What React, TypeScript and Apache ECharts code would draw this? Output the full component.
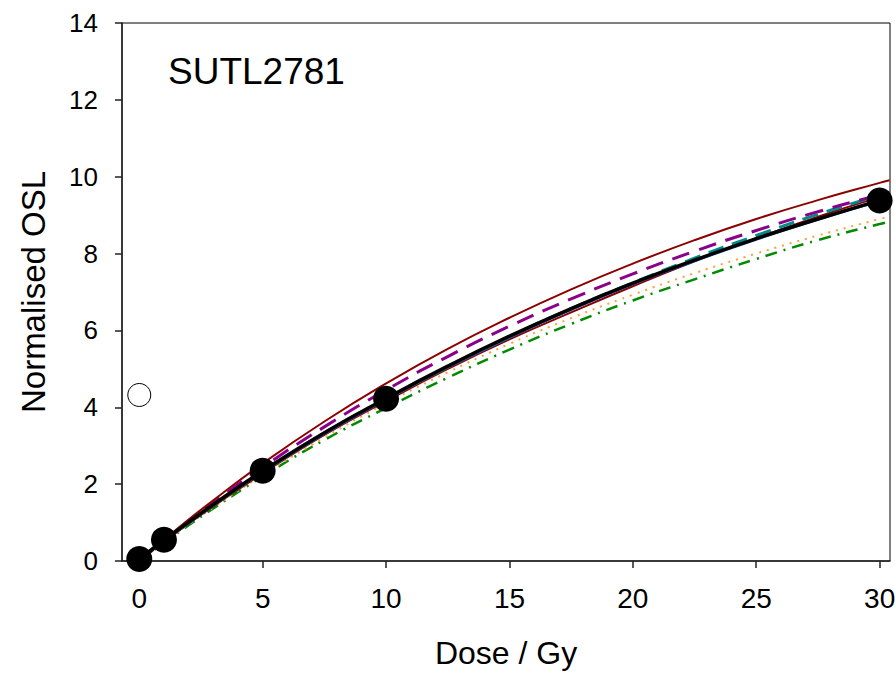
import React, { useEffect, useRef } from "react";
import * as echarts from "echarts";

// Fitted curve sample doses (Gy)
const curveDoses = [0, 1, 2, 3, 5, 7.5, 10, 12.5, 15, 17.5, 20, 22.5, 25, 27.5, 30, 30.4];

// Curves
const blackFit = [0.05, 0.54, 1.01, 1.47, 2.34, 3.34, 4.23, 5.07, 5.85, 6.57, 7.23, 7.83, 8.39, 8.9, 9.38, 9.44];
const blueFit = [0.04, 0.52, 0.98, 1.44, 2.31, 3.3, 4.19, 5.03, 5.81, 6.53, 7.2, 7.8, 8.36, 8.88, 9.36, 9.42];
const redUpper = [0, 0.55, 1.08, 1.58, 2.54, 3.63, 4.62, 5.52, 6.33, 7.07, 7.74, 8.35, 8.9, 9.39, 9.84, 9.91];
const redLower = [0.02, 0.5, 0.97, 1.42, 2.28, 3.28, 4.16, 5.0, 5.77, 6.47, 7.15, 7.8, 8.4, 8.96, 9.47, 9.54];
const purpleDash = [0, 0.53, 1.03, 1.52, 2.44, 3.49, 4.45, 5.32, 6.11, 6.82, 7.47, 8.06, 8.6, 9.09, 9.53, 9.6];
const tealDash = [0, 0.52, 1.0, 1.46, 2.33, 3.33, 4.22, 5.05, 5.84, 6.57, 7.24, 7.88, 8.47, 9.02, 9.52, 9.6];
const orangeDot = [0, 0.48, 0.95, 1.39, 2.24, 3.21, 4.1, 4.91, 5.65, 6.32, 6.93, 7.49, 8.0, 8.47, 8.9, 8.96];
const greenDashDot = [0, 0.47, 0.93, 1.37, 2.2, 3.15, 3.98, 4.77, 5.5, 6.17, 6.78, 7.33, 7.86, 8.35, 8.77, 8.83];

// Measured points
const pointDoses = [0, 1, 5, 10, 30];
const pointOSL = [0.05, 0.55, 2.35, 4.22, 9.38];
const openDose = [0];
const openOSL = [4.32];

const xTicks = [0, 5, 10, 15, 20, 25, 30];

const FONT = "'Liberation Sans', Arial, sans-serif";
const NARROW = "'Liberation Sans Narrow', 'Liberation Sans', Arial, sans-serif";

function pairs(xs: number[], ys: number[]) {
  return xs.map((x, i) => [x, ys[i]]);
}

function lineSeries(name: string, ys: number[], color: string, width: number, type: any, z = 2) {
  return {
    name,
    type: "line",
    data: pairs(curveDoses, ys),
    smooth: true,
    showSymbol: false,
    symbol: "none",
    z,
    lineStyle: { color, width, type },
  };
}

export default function App() {
  const ref = useRef<HTMLDivElement>(null);
  useEffect(() => {
    if (!ref.current) return;
    const chart = echarts.init(ref.current, undefined, { renderer: "svg" });
    chart.setOption({
      animation: false,
      backgroundColor: "#ffffff",
      grid: {
        left: 122,
        right: 5,
        top: 23,
        bottom: 114,
        outerBoundsMode: "none",
        containLabel: false,
        show: true,
        borderColor: "#000",
        borderWidth: 1,
        backgroundColor: "transparent",
      },
      graphic: [
        {
          type: "text",
          left: 168,
          top: 53,
          style: { text: "SUTL2781", font: `37px ${FONT}`, fill: "#000" },
        },
      ],
      xAxis: {
        type: "value",
        min: -0.7,
        max: 30.42,
        name: "Dose / Gy",
        nameLocation: "middle",
        nameGap: 76,
        nameTextStyle: { fontFamily: NARROW, fontSize: 32, color: "#000" },
        axisLine: { show: true, onZero: false, lineStyle: { color: "#222", width: 1.5 } },
        axisTick: { show: true, inside: false, length: 7, customValues: xTicks, lineStyle: { color: "#222", width: 1.5 } },
        axisLabel: { customValues: xTicks, fontFamily: NARROW, fontSize: 28, color: "#000", margin: 23 },
        splitLine: { show: false },
      },
      yAxis: {
        type: "value",
        min: 0,
        max: 14,
        interval: 2,
        name: "Normalised OSL",
        nameLocation: "middle",
        nameGap: 72,
        nameRotate: 90,
        nameTextStyle: { fontFamily: FONT, fontSize: 33, color: "#000" },
        axisLine: { show: true, onZero: false, lineStyle: { color: "#222", width: 1.5 } },
        axisTick: { show: true, inside: false, length: 7, lineStyle: { color: "#222", width: 1.5 } },
        axisLabel: { fontFamily: FONT, fontSize: 26, color: "#000", margin: 24 },
        splitLine: { show: false },
      },
      series: [
        lineSeries("green", greenDashDot, "#008a00", 2.5, [12, 7, 2, 7]),
        lineSeries("orange", orangeDot, "#ffa040", 2, [2, 6]),
        lineSeries("redLower", redLower, "#8b0000", 2),
        lineSeries("blue", blueFit, "#2060c0", 2),
        lineSeries("teal", tealDash, "#008b8b", 3, [16, 9]),
        lineSeries("purple", purpleDash, "#8b008b", 3, [18, 10]),
        lineSeries("redUpper", redUpper, "#8b0000", 2),
        lineSeries("black", blackFit, "#000000", 3.5, "solid", 3),
        {
          name: "points",
          type: "scatter",
          data: pairs(pointDoses, pointOSL),
          symbol: "circle",
          symbolSize: 26,
          z: 5,
          itemStyle: { color: "#000", opacity: 1 },
        },
        {
          name: "open",
          type: "scatter",
          data: pairs(openDose, openOSL),
          symbol: "circle",
          symbolSize: 23,
          z: 5,
          itemStyle: { color: "#fff", borderColor: "#000", borderWidth: 1, opacity: 1 },
        },
      ],
    });
    return () => chart.dispose();
  }, []);
  return <div ref={ref} style={{ width: 895, height: 675, position: "absolute", left: 0, top: 0 }} />;
}
